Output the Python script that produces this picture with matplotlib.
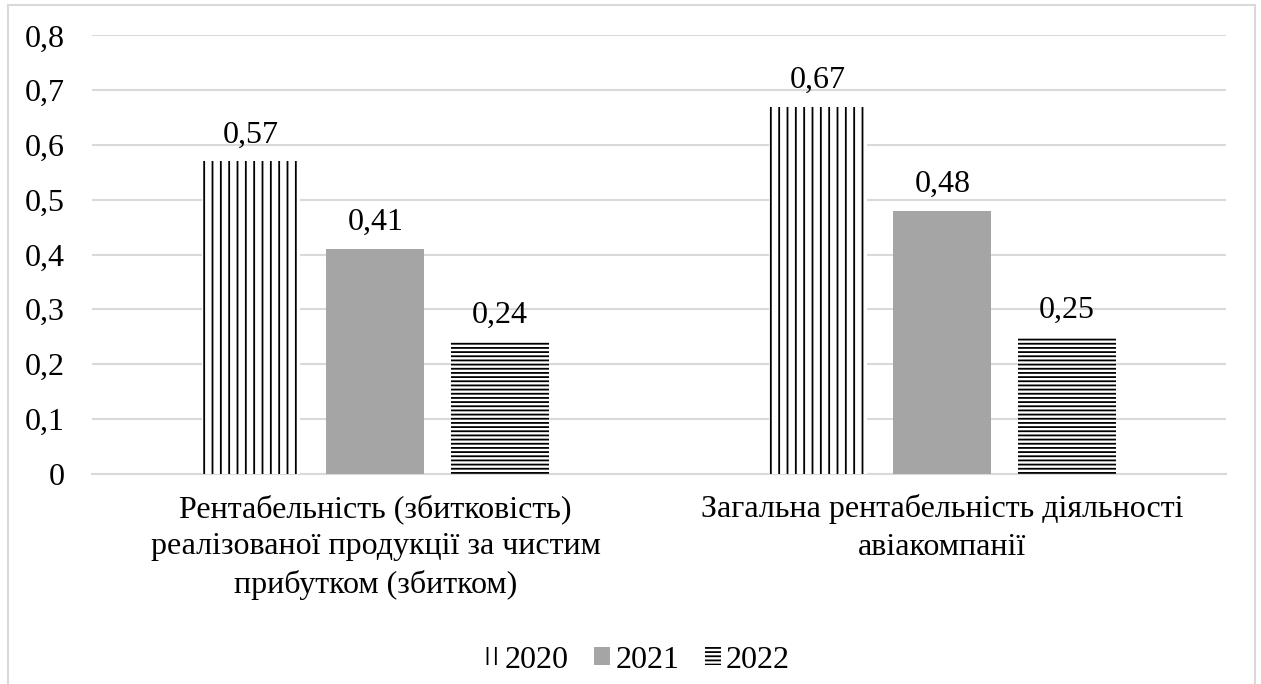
import matplotlib.pyplot as plt
from matplotlib.patches import Patch, Rectangle
import numpy as np

# Показники рентабельності авіакомпанії
categories = ['Рентабельність (збитковість)\nреалізованої продукції за чистим\nприбутком (збитком)',
              'Загальна рентабельність діяльності\nавіакомпанії']
years = ['2020', '2021', '2022']
values_2020 = [0.57, 0.67]
values_2021 = [0.41, 0.48]
values_2022 = [0.24, 0.25]

plt.rcParams['font.family'] = ['Liberation Serif', 'DejaVu Serif']
plt.rcParams['hatch.linewidth'] = 1.3
fs = 23

fig = plt.figure(figsize=(12.61, 6.84), dpi=100)
ax = fig.add_axes([0.073, 0.3077, 0.899, 0.6404])

# рамка навколо діаграми
fig.patches.append(Rectangle((0.0063, -0.02), 0.9889, 1.0127, transform=fig.transFigure,
                             fill=False, edgecolor='#d9d9d9', linewidth=1.5))

x = np.arange(len(categories))
w = 0.173
step = 0.22
series = [
    (values_2020, dict(color='white', edgecolor='black', hatch='||')),
    (values_2021, dict(color='#a5a5a5', edgecolor='#a5a5a5')),
    (values_2022, dict(color='white', edgecolor='black', hatch='----')),
]
handles = []
for i, (vals, style) in enumerate(series):
    bars = ax.bar(x + (i - 1) * step, vals, w, linewidth=0, zorder=3, **style)
    for b, v in zip(bars, vals):
        ax.annotate(f'{v:.2f}'.replace('.', ','), (b.get_x() + b.get_width() / 2, v),
                    xytext=(0, 8.5), textcoords='offset points',
                    ha='center', va='bottom', fontsize=fs)
    handles.append(Patch(facecolor=style['color'], edgecolor=style['edgecolor'],
                         hatch=style.get('hatch'), linewidth=0, label=years[i]))

ax.set_xlim(-0.5, 1.5)
ax.set_ylim(0, 0.8)
ax.set_yticks(np.arange(0, 0.81, 0.1))
ax.set_yticklabels(['0'] + [f'{t:.1f}'.replace('.', ',') for t in np.arange(0.1, 0.81, 0.1)])
ax.set_xticks(x)
ax.set_xticklabels(categories, linespacing=1.37)
ax.tick_params(axis='both', length=0, labelsize=fs)
ax.tick_params(axis='x', pad=15)
ax.tick_params(axis='y', pad=20)

ax.grid(axis='y', color='#d9d9d9', linewidth=1.5, zorder=0)
for s in ['top', 'right', 'left']:
    ax.spines[s].set_visible(False)
ax.spines['bottom'].set_color('#d9d9d9')
ax.spines['bottom'].set_linewidth(1.5)

fig.legend(handles=handles, loc='center', bbox_to_anchor=(0.505, 0.035), ncol=3,
           frameon=False, fontsize=fs, handlelength=0.5, handleheight=0.5,
           handletextpad=0.15, columnspacing=0.8)

fig.savefig('out.png', dpi=100)
